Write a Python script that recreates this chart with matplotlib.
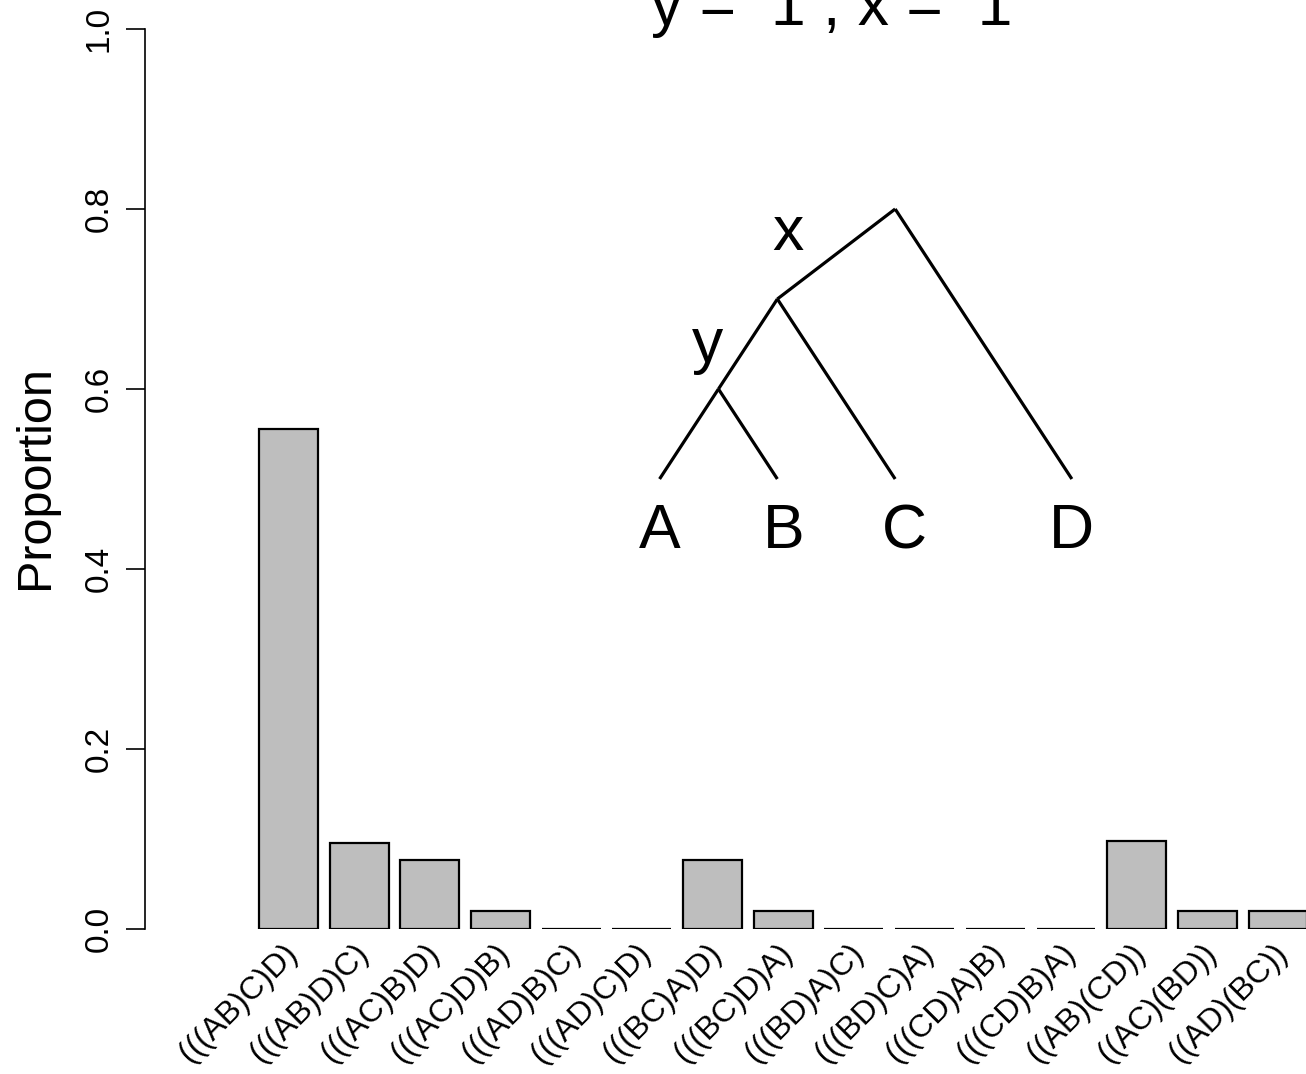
import numpy as np
import matplotlib
matplotlib.use("Agg")
import matplotlib.pyplot as plt

plt.rcParams["font.family"] = ["Liberation Sans", "DejaVu Sans"]

# topologies and their proportions
topologies = ["(((AB)C)D)", "(((AB)D)C)", "(((AC)B)D)", "(((AC)D)B)", "(((AD)B)C)",
              "(((AD)C)D)", "(((BC)A)D)", "(((BC)D)A)", "(((BD)A)C)", "(((BD)C)A)",
              "(((CD)A)B)", "(((CD)B)A)", "((AB)(CD))", "((AC)(BD))", "((AD)(BC))"]
proportions = [0.556, 0.096, 0.077, 0.02, 0.0,
               0.0, 0.077, 0.02, 0.0, 0.0,
               0.0, 0.0, 0.098, 0.02, 0.02]

# tree drawn inside the plot (x in bar units, y in proportion units)
tree_edges = [((11, 0.8), (9, 0.7)), ((11, 0.8), (14, 0.5)),
              ((9, 0.7), (8, 0.6)), ((9, 0.7), (11, 0.5)),
              ((8, 0.6), (7, 0.5)), ((8, 0.6), (9, 0.5))]
tip_labels = ["A", "B", "C", "D"]
tip_x = [7.0, 9.1, 11.15, 14.0]
node_labels = ["x", "y"]
node_pos = [(9.18, 0.754), (7.82, 0.63)]

fig = plt.figure(figsize=(13.06, 10.74), dpi=100)
ax = fig.add_axes([145 / 1306, 145 / 1074, 1161 / 1306, 900 / 1074])

# R style barplot: width 1, space 0.2
centers = 0.7 + 1.2 * np.arange(len(topologies))
ax.bar(centers, proportions, width=1.0, color="#bebebe", edgecolor="black", linewidth=1.6)

ax.set_xlim(-1.736, 17.975)
ax.set_ylim(0, 1)
for s in ["top", "right", "bottom"]:
    ax.spines[s].set_visible(False)
ax.spines["left"].set_bounds(0, 1)
ax.spines["left"].set_linewidth(1.2)
ax.set_xticks([])
ax.set_yticks([0, 0.2, 0.4, 0.6, 0.8, 1.0])
ax.set_yticklabels(["0.0", "0.2", "0.4", "0.6", "0.8", "1.0"], rotation=90, va="center")
ax.tick_params(axis="y", length=14, width=1.2, labelsize=24, pad=8)

for c, lab in zip(centers, topologies):
    ax.text(c + 0.08, -0.022, lab, rotation=45, ha="right", va="center",
            rotation_mode="anchor", fontsize=23, clip_on=False)

for (a, b) in tree_edges:
    ax.plot([a[0], b[0]], [a[1], b[1]], color="black", lw=2.3, solid_capstyle="butt")

for x, lab in zip(tip_x, tip_labels):
    ax.text(x, 0.423, lab, ha="center", va="baseline", fontsize=45)
for (x, y), lab in zip(node_pos, node_labels):
    ax.text(x, y, lab, ha="center", va="baseline", fontsize=45)

fig.text(36 / 1306, 1 - 477 / 1074, "Proportion", rotation=90, ha="center", va="center", fontsize=35)
fig.text(832 / 1306, 1 - 25 / 1074, "y =  1 , x =  1", ha="center", va="baseline", fontsize=45)

fig.savefig("out.png", dpi=100)
